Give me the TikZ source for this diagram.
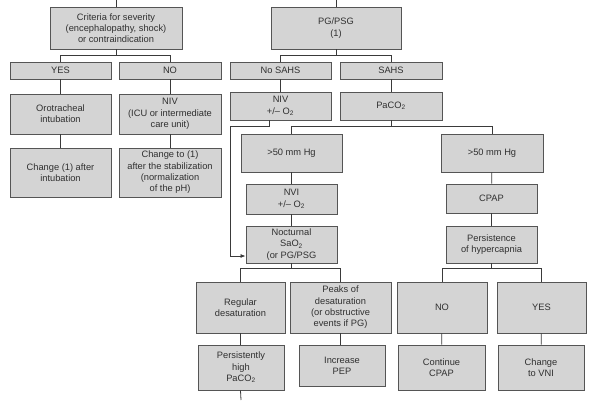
\documentclass[tikz,border=0pt]{standalone}
\usepackage{fontspec}
\setmainfont{Liberation Sans}
\usetikzlibrary{arrows.meta}
\definecolor{boxfill}{HTML}{D4D4D4}
\definecolor{boxline}{HTML}{555555}
\definecolor{conn}{HTML}{3A3A3A}
\definecolor{txt}{HTML}{303030}
\begin{document}
\begin{tikzpicture}[x=1pt,y=-1pt,
  box/.style={draw=boxline, fill=boxfill, line width=0.9pt, align=center, inner sep=0pt,
    text=txt, font=\fontsize{9.3}{11.3}\selectfont},
  conn/.style={draw=conn, line width=0.8pt},
  tip/.style={-{Latex[length=5pt,width=4pt]}}]
\useasboundingbox (0,0) rectangle (600,400);
% left column
\node[box, minimum width=132pt, minimum height=42pt] (crit) at (116,28) {Criteria for severity\\(encephalopathy, shock)\\or contraindication};
\node[box, minimum width=101pt, minimum height=17pt] (yes1) at (60.5,70.5) {YES};
\node[box, minimum width=102pt, minimum height=17pt] (no1) at (170,70.5) {NO};
\node[box, minimum width=101pt, minimum height=40pt] (oro) at (60.5,114) {Orotracheal\\intubation};
\node[box, minimum width=102pt, minimum height=40pt] (niv1) at (170,114) {NIV\\(ICU or intermediate\\care unit)};
\node[box, minimum width=101pt, minimum height=49pt] (chg1) at (60.5,172.5) {Change (1) after\\intubation};
\node[box, minimum width=102pt, minimum height=49pt] (chg2) at (170,172.5) {Change to (1)\\after the stabilization\\(normalization\\of the pH)};
% right part
\node[box, minimum width=130pt, minimum height=42pt] (pg) at (336,28) {PG/PSG\\(1)};
\node[box, minimum width=101pt, minimum height=17pt] (nosahs) at (280.5,70.5) {No SAHS};
\node[box, minimum width=102pt, minimum height=17pt] (sahs) at (391,70.5) {SAHS};
\node[box, minimum width=101pt, minimum height=28pt] (niv2) at (280.5,106) {NIV\\+/– O\textsubscript{2}};
\node[box, minimum width=102pt, minimum height=28pt] (paco2) at (391,106) {PaCO\textsubscript{2}};
\node[box, minimum width=101pt, minimum height=38pt] (gt1) at (291.5,153) {>50 mm Hg};
\node[box, minimum width=102pt, minimum height=38pt] (gt2) at (492,153) {>50 mm Hg};
\node[box, minimum width=91pt, minimum height=30pt] (nvi) at (291.5,199) {NVI\\+/– O\textsubscript{2}};
\node[box, minimum width=91pt, minimum height=29pt] (cpap) at (491.5,198.5) {CPAP};
\node[box, minimum width=91pt, minimum height=37pt] (noct) at (291.5,244.5) {Nocturnal\\SaO\textsubscript{2}\\(or PG/PSG};
\node[box, minimum width=91pt, minimum height=37pt] (pers) at (491.5,244.5) {Persistence\\of hypercapnia};
\node[box, minimum width=89pt, minimum height=51pt] (reg) at (240.5,307.5) {Regular\\desaturation};
\node[box, minimum width=101pt, minimum height=51pt] (peaks) at (340.5,307.5) {Peaks of\\desaturation\\(or obstructive\\events if PG)};
\node[box, minimum width=90pt, minimum height=51pt] (no2) at (442,307.5) {NO};
\node[box, minimum width=89pt, minimum height=51pt] (yes2) at (541.5,307.5) {YES};
\node[box, minimum width=86pt, minimum height=45pt] (persist) at (241,367.5) {Persistently\\high\\PaCO\textsubscript{2}};
\node[box, minimum width=86pt, minimum height=41pt] (incr) at (342,365.5) {Increase\\PEP};
\node[box, minimum width=87pt, minimum height=45pt] (cont) at (441.5,367.5) {Continue\\CPAP};
\node[box, minimum width=86pt, minimum height=45pt] (chvni) at (541,367.5) {Change\\to VNI};
% free ends
\coordinate (topL) at (116,0);
\coordinate (topR) at (336,0);
\coordinate (bot) at (241,400);
\coordinate (corner) at (230,256);
% connectors
\draw[conn] (topL) -- (crit.north);
\draw[conn] (topR) -- (pg.north);
\draw[conn] (crit.south) -- ++(0,6) coordinate (j1) -| (yes1.north);
\draw[conn] (j1) -| (no1.north);
\draw[conn] (yes1) -- (oro);
\draw[conn] (no1) -- (niv1);
\draw[conn] (oro) -- (chg1);
\draw[conn] (niv1) -- (chg2);
\draw[conn] (pg.south) -- ++(0,6) coordinate (j2) -| (nosahs.north);
\draw[conn] (j2) -| (sahs.north);
\draw[conn] (nosahs) -- (niv2);
\draw[conn] (sahs) -- (paco2);
\draw[conn,tip] ([xshift=-11.5pt]niv2.south) -- ++(0,6) -| (corner) -- (corner -| noct.west);
\draw[conn] (paco2.south) -- ++(0,6) coordinate (j3) -| (gt1.north);
\draw[conn] (j3) -| (gt2.north);
\draw[conn] (gt1) -- (nvi);
\draw[conn] (nvi) -- (noct);
\draw[conn] (gt2) -- (cpap);
\draw[conn] (cpap) -- (pers);
\draw[conn] (noct.south) -- ++(0,5) coordinate (j4) -| (reg.north);
\draw[conn] (j4) -| (peaks.north);
\draw[conn] (pers.south) -- ++(0,5) coordinate (j5) -| (no2.north);
\draw[conn] (j5) -| (yes2.north);
\draw[conn] (reg.south) -- (reg.south |- persist.north);
\draw[conn] (peaks.south) -- (peaks.south |- incr.north);
\draw[conn] (no2) -- (cont);
\draw[conn] (yes2) -- (chvni);
\draw[conn] (reg.south |- persist.south) -- (bot);
\end{tikzpicture}
\end{document}
